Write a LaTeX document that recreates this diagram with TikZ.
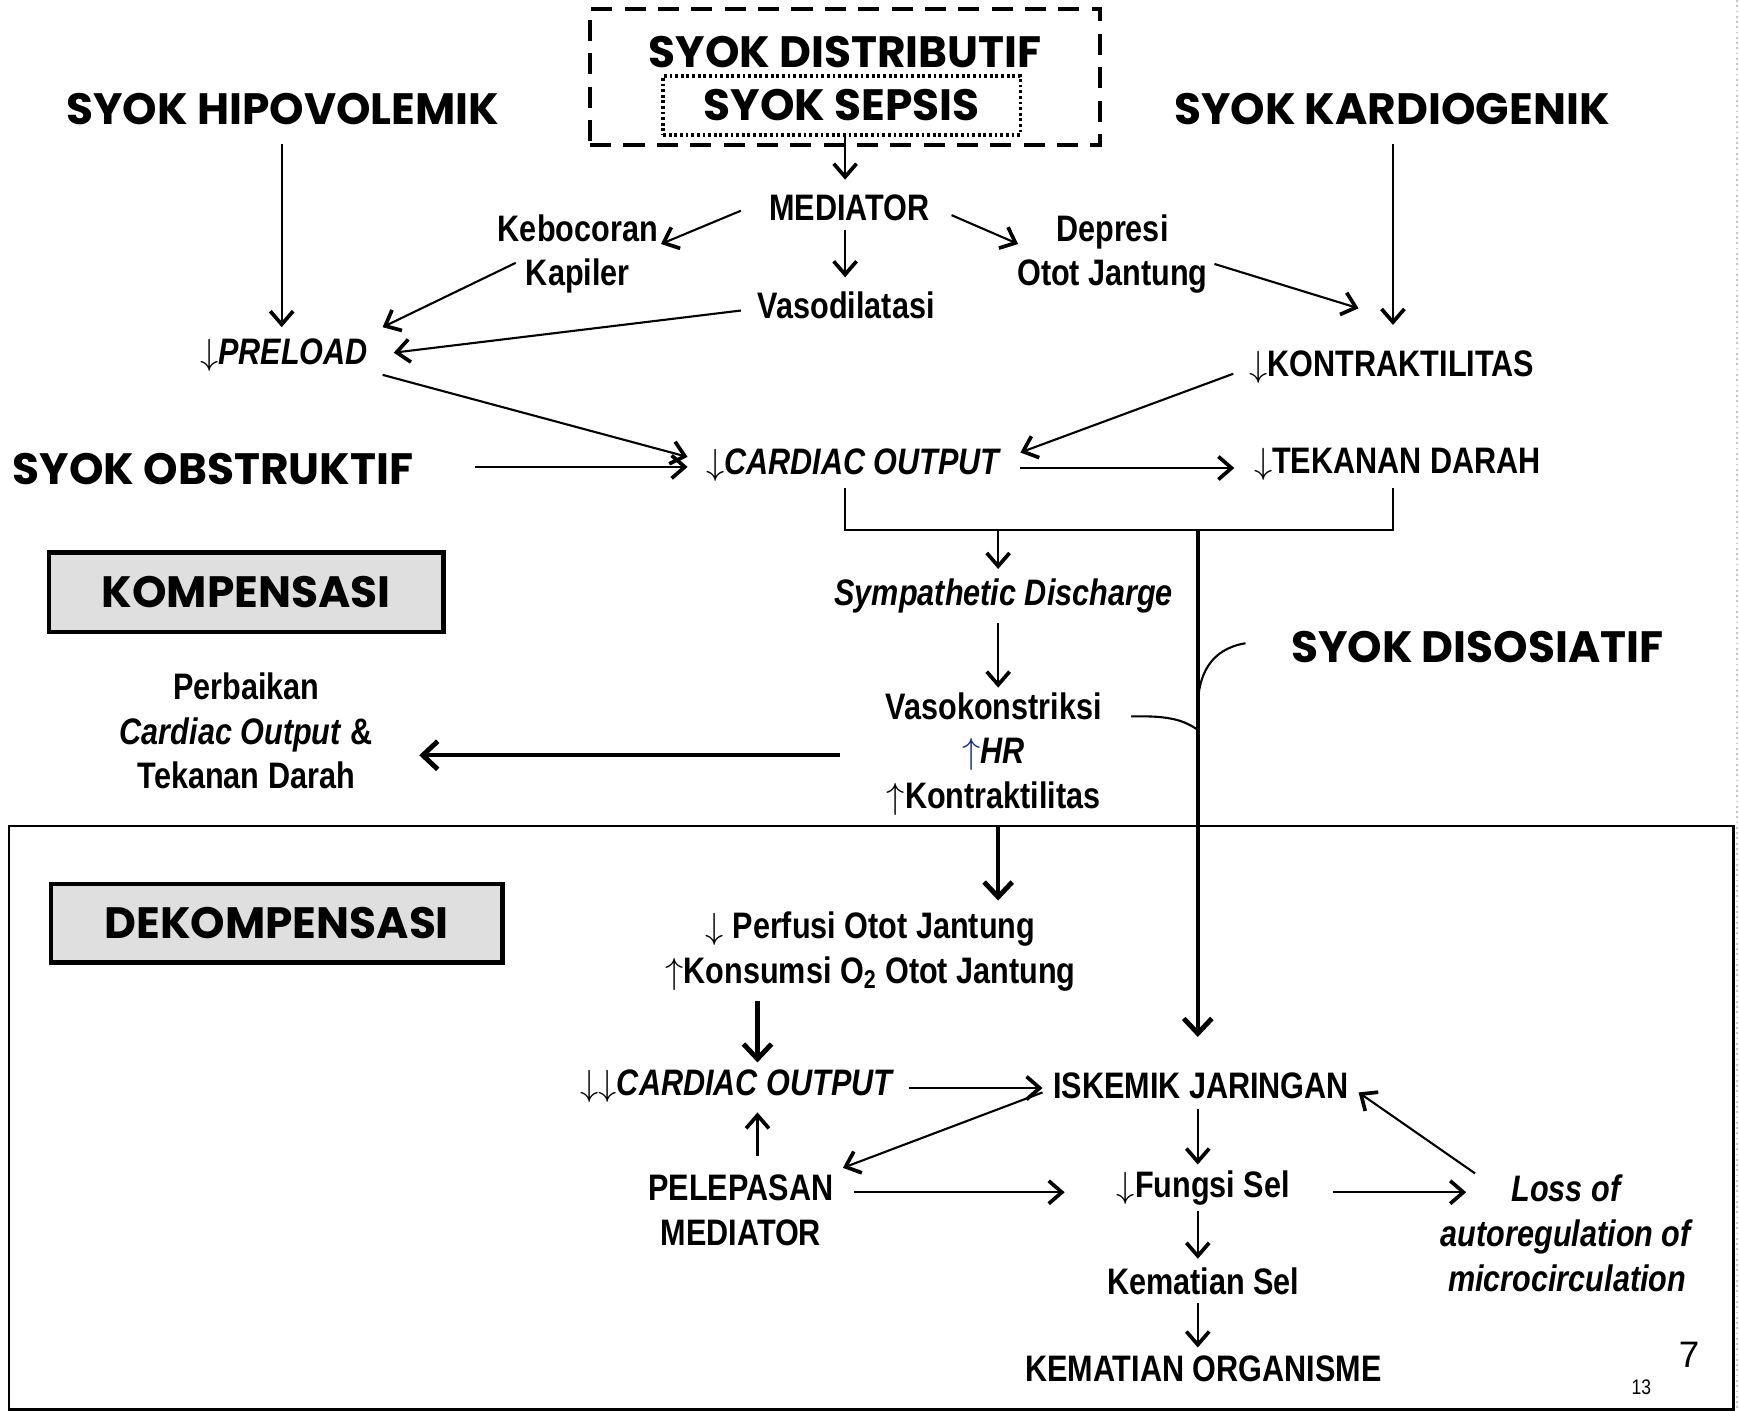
\documentclass[tikz,border=0pt]{standalone}
\usepackage{fontspec}
\setmainfont{Liberation Sans}[FakeStretch=0.83]
\newfontfamily\gothic{Poppins}
\newfontfamily\plainf{Liberation Sans}
\usetikzlibrary{arrows.meta,calc}
\definecolor{navy}{RGB}{25,45,120}
\begin{document}
\begin{tikzpicture}[x=0.0222cm,y=-0.0222cm]
\tikzset{
 txt/.style={inner sep=0pt, align=center, font=\bfseries\fontsize{21}{25.5}\selectfont},
 head/.style={inner sep=0pt, font=\gothic\bfseries\fontsize{25}{30}\selectfont},
 lblbox/.style={draw, line width=2.6pt, fill=gray!25, inner sep=0pt, font=\gothic\bfseries\fontsize{25}{30}\selectfont},
 arr/.style={line width=1.2pt, -{Straight Barb[length=7.5pt,width=13pt,line width=2.1pt]}},
 tarr/.style={line width=2.4pt, -{Straight Barb[length=8.5pt,width=16pt,line width=2.8pt]}},
 pline/.style={line width=1.2pt},
 tline/.style={line width=2.4pt},
}
\useasboundingbox (0,0) rectangle (1568,1272);
\fill[white] (0,0) rectangle (1568,1272);
\draw[gray!45, line width=0.8pt, dash pattern=on 1pt off 2pt] (1566,0) -- (1566,1272);

% top group
\node[draw, line width=2.5pt, dash pattern=on 12pt off 7pt, minimum width=10.21cm, minimum height=2.73cm] (distbox) at (762,69.5) {};
\node[head] (dist) at (762,47) {SYOK DISTRIBUTIF};
\node[head, draw, line width=2pt, dash pattern=on 1.6pt off 1.6pt, minimum width=7.15cm, minimum height=1.18cm] (sepsis) at (759,95) {SYOK SEPSIS};
\node[head] (hipo) at (255,98) {SYOK HIPOVOLEMIK};
\node[head] (kardio) at (1255,98) {SYOK KARDIOGENIK};
\node[txt] (med) at (766,187) {MEDIATOR};
\node[txt] (keb) at (521,229) {Kebocoran\\Kapiler};
\node[txt] (vaso) at (763,275) {Vasodilatasi};
\node[txt] (dep) at (1003,229) {Depresi\\Otot Jantung};
\node[txt] (pre) at (256,320) {$\downarrow$\textit{PRELOAD}};
\node[txt] (kon) at (1255,331) {$\downarrow$KONTRAKTILITAS};
\node[head] (obs) at (192,423) {SYOK OBSTRUKTIF};
\node[txt] (co) at (770,419) {$\downarrow$\textit{CARDIAC OUTPUT}};
\node[txt] (tek) at (1260,419) {$\downarrow$TEKANAN DARAH};
\node[txt] (sym) at (905,537) {\textit{Sympathetic Discharge}};
\node[txt] (vk) at (896,680) {Vasokonstriksi\\{\color{navy}$\uparrow$}\textit{HR}\\$\uparrow$Kontraktilitas};
\node[head] (diso) at (1332,583) {SYOK DISOSIATIF};
\node[lblbox, minimum width=7.9cm, minimum height=1.6cm] (komp) at (222,534) {KOMPENSASI};
\node[txt] (perb) at (222,659) {Perbaikan\\\textit{Cardiac Output} \&\\Tekanan Darah};

% decompensation frame
\draw[line width=1.4pt] (8,745) rectangle (1563,1271);
\node[lblbox, minimum width=9.04cm, minimum height=1.58cm] (dekomp) at (249.5,832.5) {DEKOMPENSASI};
\node[txt] (perf) at (785,858) {$\downarrow$ Perfusi Otot Jantung\\$\uparrow$Konsumsi O\textsubscript{2} Otot Jantung};
\node[txt] (co2) at (665,979) {$\downarrow\downarrow$\textit{CARDIAC OUTPUT}};
\node[txt] (isk) at (1083,979) {ISKEMIK JARINGAN};
\node[txt] (pel) at (668,1091) {PELEPASAN\\MEDIATOR};
\node[txt] (fung) at (1085,1071) {$\downarrow$Fungsi Sel};
\node[txt] (loss) at (1413,1112) {\textit{Loss of}\\\textit{autoregulation of}\\\textit{microcirculation}};
\node[txt] (kms) at (1085,1155) {Kematian Sel};
\node[txt] (korg) at (1085,1234) {KEMATIAN ORGANISME};
\node[inner sep=0pt, font=\plainf\fontsize{21}{25}\selectfont] (seven) at (1523,1222) {7};
\node[inner sep=0pt, font=\fontsize{12}{14}\selectfont] (thirteen) at (1480,1251) {13};

% connectors, top
\draw[arr] ($(sepsis)+(3,26.5)$) -- ($(med)+(-4,-25)$);
\draw[arr] ($(med)+(-98,3)$) -- ($(keb)+(75,-9)$);
\draw[arr] ($(med)+(-4,20)$) -- ($(vaso)+(-1,-25)$);
\draw[arr] ($(med)+(92,7)$) -- ($(dep)+(-85,-9)$);
\draw[arr] ($(hipo)+(-1,32)$) -- ($(pre)+(-2,-25)$);
\draw[arr] ($(keb)+(-56,8)$) -- ($(pre)+(89,-25)$);
\draw[arr] ($(vaso)+(-95,5)$) -- ($(pre)+(99,-2)$);
\draw[arr] ($(kardio)+(1,32)$) -- ($(kon)+(1,-38)$);
\draw[arr] ($(dep)+(92,9)$) -- ($(kon)+(-30,-53)$);
\draw[arr] ($(pre)+(89,18)$) -- ($(co)+(-150,-7)$);
\draw[arr] ($(kon)+(-143,6)$) -- ($(co)+(150,-11)$);
\draw[arr] ($(obs)+(236,-2)$) -- ($(co)+(-150,2)$);
\draw[arr] ($(co)+(150,3)$) -- ($(tek)+(-147,3)$);

% bracket
\draw[pline] ($(co)+(-8,21)$) -- ++(0,38) -| ($(tek)+(-4,21)$);
\coordinate (brkA) at ($(co)+(130,59)$);
\coordinate (brkB) at ($(co)+(310,59)$);
\draw[arr] (brkA) -- ($(sym)+(-5,-24)$);
\draw[tarr] (brkB) -- ($(isk)+(-3,-44)$);
\draw[arr] ($(sym)+(-5,25)$) -- ($(vk)+(4,-60)$);
\draw[tarr] ($(vk)+(-139,1)$) -- ($(perb)+(156,22)$);
\draw[tarr] ($(vk)+(4,65)$) -- ($(perf)+(115,-46)$);

% curves joining the thick line
\coordinate (j1) at ($(brkB)+(0,180)$);
\coordinate (j2) at ($(brkB)+(0,160)$);
\draw[pline] ($(vk)+(124,-34)$) .. controls ($(vk)+(160,-35)$) and ($(j1)+(-12,-8)$) .. (j1);
\draw[pline] ($(diso)+(-209,-3)$) .. controls ($(diso)+(-240,2)$) and ($(j2)+(0,-30)$) .. (j2);

% connectors, bottom
\draw[tarr] ($(perf)+(-102,45)$) -- ($(co2)+(18,-21)$);
\draw[arr] ($(co2)+(155,2)$) -- ($(isk)+(-143,2)$);
\draw[arr] ($(isk)+(-143,6)$) -- ($(pel)+(92,-38)$);
\draw[arr] ($(pel)+(15,-49)$) -- ($(co2)+(18,24)$);
\draw[arr] ($(pel)+(102,-16)$) -- ($(fung)+(-125,4)$);
\draw[arr] ($(isk)+(-3,21)$) -- ($(fung)+(-5,-21)$);
\draw[arr] ($(fung)+(117,4)$) -- ($(loss)+(-91,-37)$);
\draw[arr] ($(loss)+(-83,-54)$) -- ($(isk)+(142,6)$);
\draw[arr] ($(fung)+(-5,21)$) -- ($(kms)+(-5,-20)$);
\draw[arr] ($(kms)+(-5,20)$) -- ($(korg)+(-5,-19)$);
\end{tikzpicture}
\end{document}
